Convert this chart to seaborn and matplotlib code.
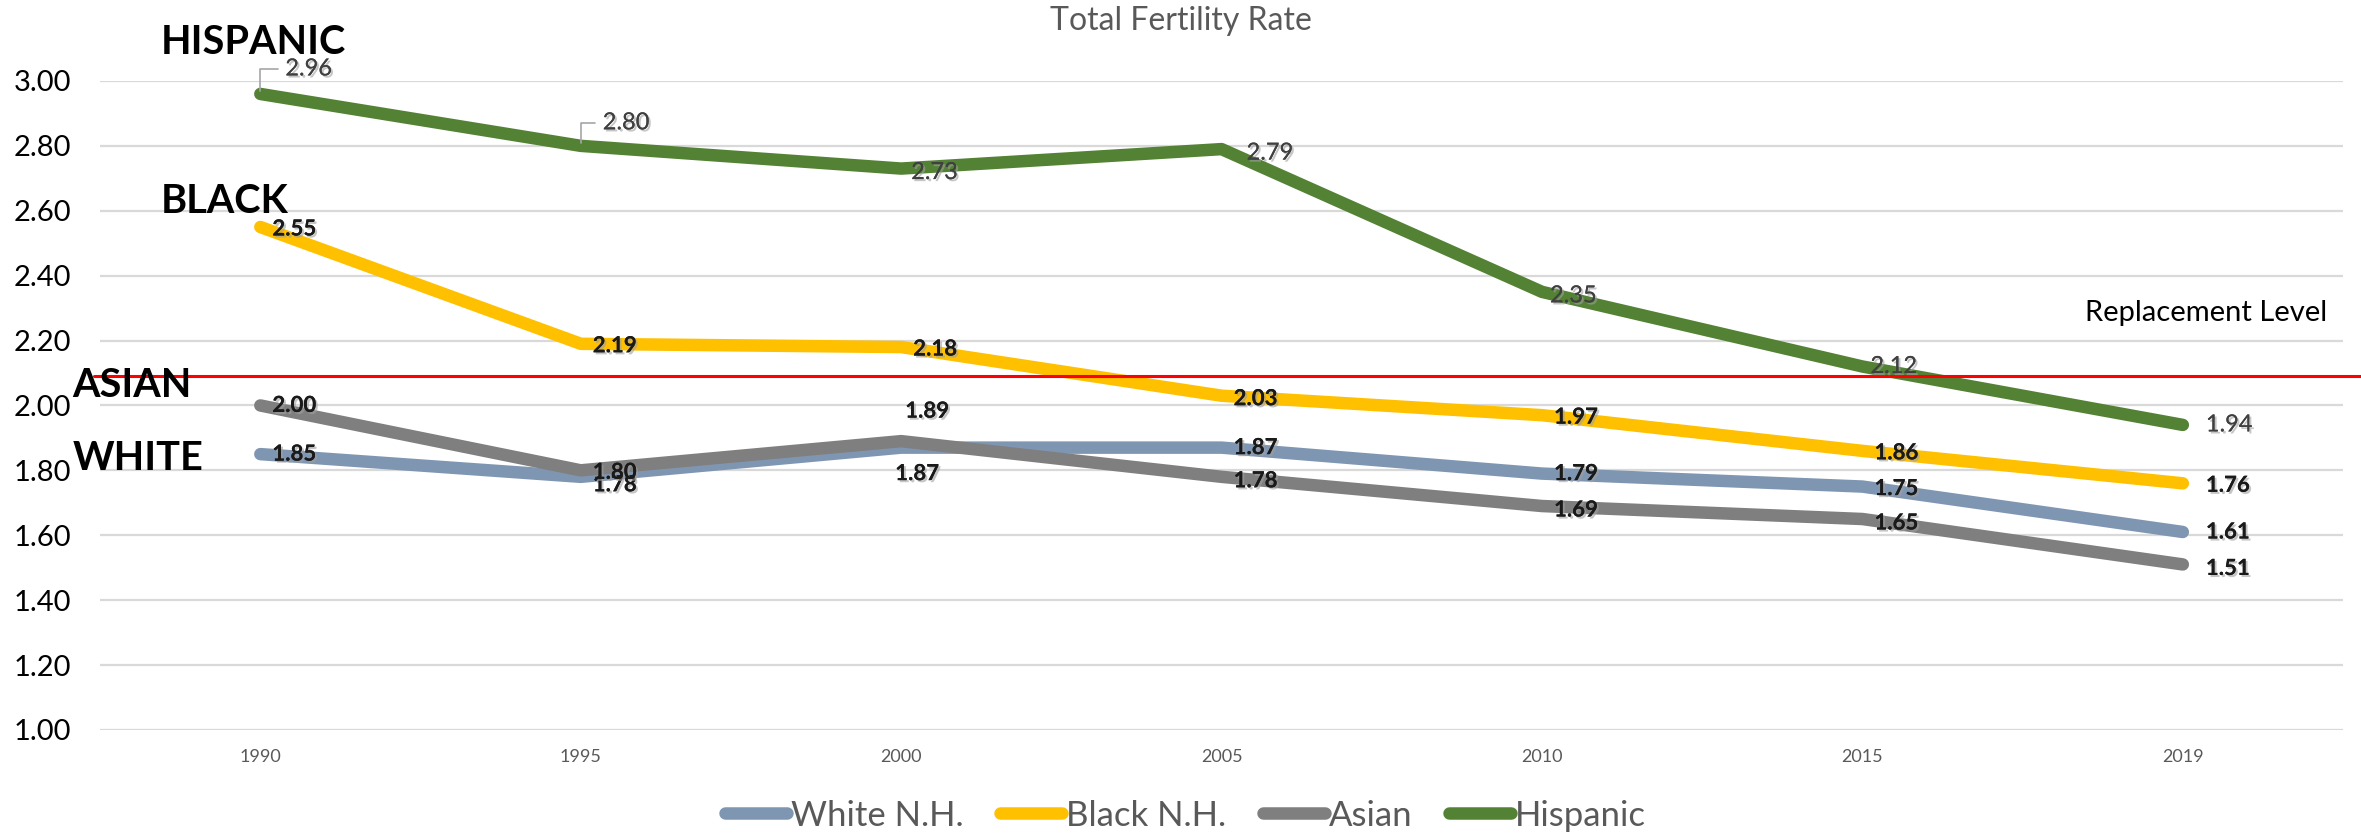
import matplotlib
matplotlib.use("Agg")
import matplotlib.pyplot as plt
import matplotlib.patheffects as pe
from matplotlib.lines import Line2D
import pandas as pd
import seaborn as sns

# data
years = ["1990", "1995", "2000", "2005", "2010", "2015", "2019"]
white = [1.85, 1.78, 1.87, 1.87, 1.79, 1.75, 1.61]
black = [2.55, 2.19, 2.18, 2.03, 1.97, 1.86, 1.76]
asian = [2.00, 1.80, 1.89, 1.78, 1.69, 1.65, 1.51]
hispanic = [2.96, 2.80, 2.73, 2.79, 2.35, 2.12, 1.94]
series_names = ["White N.H.", "Black N.H.", "Asian", "Hispanic"]
replacement = 2.09

colors = {"White N.H.": "#7F96B2", "Black N.H.": "#FFC000",
          "Asian": "#7F7F7F", "Hispanic": "#548235"}

# long form table for seaborn
df = pd.DataFrame({
    "year": years * 4,
    "rate": white + black + asian + hispanic,
    "group": [n for n in series_names for _ in years],
})

sns.set_theme(style="white")
plt.rcParams["font.family"] = ["Lato", "DejaVu Sans"]

fig = plt.figure(figsize=(23.61, 8.39), dpi=100)
ax = fig.add_axes([0.0424, 0.130, 0.9500, 0.7735])

sns.lineplot(data=df, x="year", y="rate", hue="group", hue_order=series_names,
             palette=colors, lw=9, solid_capstyle="round", sort=False,
             legend=False, ax=ax, zorder=3)

ax.set_xlim(-0.5, 6.5)
ax.set_ylim(1.0, 3.0)
ax.set_yticks([1.0 + 0.2 * i for i in range(11)])
ax.set_yticklabels([f"{1.0 + 0.2 * i:.2f}" for i in range(11)], fontsize=21, color="#000000")
ax.tick_params(axis="y", length=0, pad=21)
ax.tick_params(axis="x", length=0, pad=14, labelsize=13, labelcolor="#595959")
ax.set_xlabel("")
ax.set_ylabel("")
ax.grid(axis="y", color="#D9D9D9", lw=1.6)
ax.grid(axis="x", visible=False)
for s in ax.spines.values():
    s.set_visible(False)

# replacement level line
ax.plot([-0.52, 6.7], [replacement, replacement], color="#FF0000", lw=2.2,
        clip_on=False, zorder=5)
ax.text(6.45, 2.285, "Replacement Level", ha="right", va="center", fontsize=21,
        color="#000000")

fig.suptitle("Total Fertility Rate", x=0.5, y=0.993, va="top", fontsize=23,
             color="#595959")

shadow = [pe.withSimplePatchShadow(offset=(1.5, -1.5), shadow_rgbFace="#A0A0A0", alpha=0.6),
          pe.Normal()]

# label offsets (pixels) per point
offs = {
    "Hispanic": [(25, 25), (22, 23), (10, -4), (25, -4), (8, -4), (8, 0), (23, 0)],
    "Black N.H.": [(12, -2), (12, -2), (12, -2), (12, -3), (12, -2), (12, -2), (23, -2)],
    "White N.H.": [(12, 0), (12, -8), (-6, -26), (12, 0), (12, 0), (12, -2), (23, 0)],
    "Asian": [(12, 0), (12, -2), (4, 30), (12, -4), (12, -4), (12, -4), (23, -4)],
}
values = {"White N.H.": white, "Black N.H.": black, "Asian": asian, "Hispanic": hispanic}

for name in series_names:
    for i, (yr, v) in enumerate(zip(years, values[name])):
        dx, dy = offs[name][i]
        if name == "Hispanic":
            kw = dict(fontsize=17, color="#404040", fontweight="normal")
        else:
            kw = dict(fontsize=16, color="#1A1A1A", fontweight="bold")
        arrow = None
        if name == "Hispanic" and i < 2:
            arrow = dict(arrowstyle="-", color="#A6A6A6", lw=1.2, shrinkA=3, shrinkB=2,
                         connectionstyle="angle,angleA=0,angleB=90,rad=0")
        ax.annotate(f"{v:.2f}", xy=(i, v), xytext=(dx, dy), textcoords="offset pixels",
                    ha="left", va="center", path_effects=shadow, arrowprops=arrow,
                    zorder=6, annotation_clip=False, **kw)

# group names
for label, x, y in [("HISPANIC", -0.31, 3.12), ("BLACK", -0.31, 2.63),
                    ("ASIAN", -0.587, 2.06), ("WHITE", -0.587, 1.835)]:
    ax.text(x, y, label, ha="left", va="center", fontsize=28.5, fontweight="bold",
            color="#000000", clip_on=False, zorder=7)

handles = [Line2D([0], [0], color=colors[n], lw=9, solid_capstyle="round") for n in series_names]
fig.legend(handles, series_names, loc="center", bbox_to_anchor=(0.502, 0.028), ncol=4,
           frameon=False, fontsize=25, labelcolor="#595959", handlelength=1.8,
           handletextpad=0.1, columnspacing=1.05)

fig.savefig("out.png", dpi=100)
